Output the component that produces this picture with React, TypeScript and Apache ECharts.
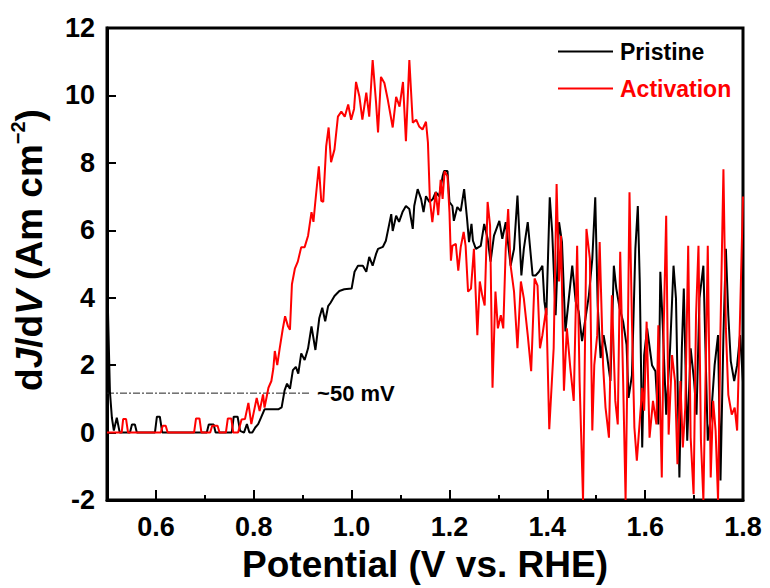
import React, { useEffect, useRef } from "react";
import * as echarts from "echarts";

const xTicksMajor = [0.6, 0.8, 1.0, 1.2, 1.4, 1.6, 1.8];
const yTicks = [-2, 0, 2, 4, 6, 8, 10, 12];

const pristineV = [
  0.5, 0.503, 0.506, 0.51, 0.514, 0.52, 0.526, 0.547, 0.551, 0.557, 0.561, 0.598, 0.602, 0.608, 0.613,
  0.704, 0.708, 0.718, 0.722, 0.755, 0.759, 0.767, 0.772, 0.78, 0.786, 0.791, 0.797, 0.803, 0.809, 0.815,
  0.822, 0.85, 0.857, 0.863, 0.868, 0.874, 0.88, 0.886, 0.891, 0.897, 0.904, 0.911, 0.918, 0.926, 0.934,
  0.94, 0.946, 0.952, 0.957, 0.965, 0.975, 0.985, 1.0, 1.006, 1.013, 1.023, 1.03, 1.036, 1.043, 1.05,
  1.054, 1.064, 1.07, 1.077, 1.081, 1.084, 1.091, 1.097, 1.104, 1.111, 1.118, 1.125, 1.128, 1.135, 1.142,
  1.147, 1.152, 1.159, 1.166, 1.172, 1.179, 1.186, 1.189, 1.196, 1.2, 1.206, 1.209, 1.216, 1.223, 1.23,
  1.236, 1.24, 1.245, 1.248, 1.254, 1.264, 1.271, 1.278, 1.284, 1.291, 1.302, 1.308, 1.315, 1.325, 1.332,
  1.339, 1.347, 1.352, 1.36, 1.37, 1.376, 1.383, 1.39, 1.394, 1.398, 1.405, 1.41, 1.417, 1.424, 1.43,
  1.437, 1.444, 1.451, 1.458, 1.464, 1.471, 1.478, 1.485, 1.492, 1.498, 1.503, 1.509, 1.515, 1.522, 1.529,
  1.536, 1.541, 1.548, 1.555, 1.562, 1.566, 1.573, 1.58, 1.585, 1.589, 1.594, 1.598, 1.604, 1.614, 1.621,
  1.627, 1.631, 1.636, 1.643, 1.651, 1.658, 1.663, 1.67, 1.675, 1.679, 1.686, 1.693, 1.7, 1.705, 1.711,
  1.719, 1.728, 1.735, 1.742, 1.749, 1.754, 1.76, 1.765, 1.77, 1.775, 1.782, 1.788, 1.794, 1.8,
];
const pristineJ = [
  4.8, 3.0, 1.2, 0.44, 0.06, 0.44, 0.0, 0.0, 0.24, 0.24, 0.0, 0.0, 0.47, 0.47, 0.0,
  0.0, 0.24, 0.24, 0.0, 0.0, 0.47, 0.47, 0.05, 0.0, 0.25, 0.0, 0.0, 0.15, 0.25, 0.45,
  0.69, 0.69, 0.75, 1.25, 1.45, 1.3, 1.85, 1.95, 1.75, 2.35, 2.15, 2.5, 3.15, 2.45, 3.4,
  3.7, 3.3, 3.75, 3.85, 4.05, 4.2, 4.25, 4.27, 4.77, 4.95, 4.95, 4.77, 5.21, 4.95, 5.3,
  5.45, 5.51, 5.69, 6.19, 6.48, 5.98, 6.43, 6.25, 6.54, 6.72, 6.63, 6.04, 6.72, 7.22, 6.93,
  6.54, 7.01, 6.84, 6.93, 7.13, 7.01, 7.6, 7.76, 7.76, 6.84, 6.72, 6.28, 6.69, 6.57, 7.22,
  6.34, 5.65, 6.19, 5.69, 5.45, 5.54, 6.19, 5.75, 5.07, 5.84, 6.28, 5.75, 6.24, 4.95, 5.45,
  7.03, 4.66, 5.45, 6.24, 4.66, 4.66, 4.77, 4.95, 3.89, 3.48, 6.98, 5.95, 3.48, 6.24, 5.65,
  3.0, 3.98, 4.95, 3.89, 3.6, 2.71, 3.39, 4.07, 5.16, 6.98, 3.77, 2.21, 2.89, 2.3, 1.53,
  4.95, 4.27, 3.68, 3.29, 2.6, 1.03, 1.7, 5.45, 6.72, 4.48, -0.44, 2.3, 3.09, 2.0, 1.82,
  0.24, 4.77, 3.18, 0.53, 2.5, 4.95, 3.98, -1.33, 2.5, 4.27, -0.24, 2.5, 1.53, 0.53, 3.98,
  4.95, -0.24, 0.53, 2.0, 2.89, -1.42, 2.89, 5.45, 3.48, 2.12, 1.53, 2.0, 2.89, 1.5,
];

const activationV = [
  0.5, 0.53, 0.533, 0.539, 0.543, 0.61, 0.614, 0.62, 0.624, 0.678, 0.682, 0.689, 0.693, 0.711, 0.715,
  0.726, 0.73, 0.743, 0.747, 0.754, 0.758, 0.768, 0.775, 0.782, 0.789, 0.795, 0.806, 0.812, 0.819, 0.822,
  0.83, 0.836, 0.84, 0.843, 0.848, 0.853, 0.859, 0.864, 0.87, 0.874, 0.878, 0.884, 0.89, 0.897, 0.904,
  0.911, 0.918, 0.922, 0.925, 0.933, 0.938, 0.942, 0.948, 0.953, 0.958, 0.965, 0.972, 0.979, 0.986, 0.993,
  0.999, 1.005, 1.009, 1.016, 1.022, 1.03, 1.036, 1.043, 1.05, 1.054, 1.06, 1.067, 1.074, 1.084, 1.091,
  1.098, 1.105, 1.111, 1.118, 1.125, 1.132, 1.138, 1.145, 1.152, 1.156, 1.16, 1.165, 1.172, 1.177, 1.182,
  1.186, 1.19, 1.196, 1.2, 1.203, 1.206, 1.213, 1.218, 1.223, 1.229, 1.233, 1.238, 1.244, 1.25, 1.257,
  1.262, 1.267, 1.272, 1.278, 1.283, 1.288, 1.294, 1.299, 1.305, 1.31, 1.315, 1.32, 1.325, 1.332, 1.339,
  1.346, 1.352, 1.36, 1.367, 1.374, 1.38, 1.385, 1.39, 1.398, 1.404, 1.413, 1.419, 1.424, 1.428, 1.434,
  1.44, 1.447, 1.454, 1.461, 1.466, 1.473, 1.48, 1.487, 1.492, 1.496, 1.502, 1.507, 1.514, 1.519, 1.526,
  1.532, 1.539, 1.544, 1.549, 1.555, 1.56, 1.564, 1.568, 1.573, 1.578, 1.583, 1.589, 1.594, 1.598, 1.603,
  1.609, 1.616, 1.623, 1.627, 1.634, 1.638, 1.643, 1.648, 1.655, 1.661, 1.666, 1.672, 1.677, 1.682, 1.688,
  1.693, 1.699, 1.704, 1.709, 1.714, 1.719, 1.725, 1.728, 1.734, 1.739, 1.744, 1.749, 1.754, 1.76, 1.765,
  1.77, 1.777, 1.783, 1.788, 1.794, 1.8,
];
const activationJ = [
  0.0, 0.0, 0.4, 0.4, 0.0, 0.0, 0.2, 0.2, 0.0, 0.0, 0.42, 0.42, 0.0, 0.0, 0.2,
  0.2, 0.0, 0.0, 0.42, 0.42, 0.0, 0.0, 0.39, 0.4, 0.88, 0.25, 1.03, 0.64, 1.13, 0.74,
  1.33, 1.53, 1.9, 2.42, 2.0, 2.5, 3.05, 3.45, 3.15, 3.05, 4.4, 4.86, 5.07, 5.5, 5.5,
  5.84, 6.54, 6.25, 6.72, 7.9, 6.87, 6.84, 8.49, 9.05, 8.02, 8.4, 9.37, 9.52, 9.37, 9.73,
  9.28, 9.6, 10.4, 9.96, 9.28, 10.08, 9.37, 11.05, 9.78, 8.9, 10.55, 10.37, 9.87, 9.05, 9.96,
  9.67, 10.4, 8.64, 11.05, 9.19, 9.28, 9.08, 8.99, 9.22, 8.6, 6.9, 6.24, 7.13, 6.45, 7.5,
  6.93, 7.75, 7.6, 6.54, 5.1, 5.54, 5.6, 4.8, 5.5, 5.95, 5.54, 4.18, 4.27, 5.45, 2.89,
  4.48, 4.07, 3.77, 6.84, 6.14, 1.33, 4.18, 3.09, 3.48, 3.09, 5.45, 6.63, 4.95, 4.18, 2.5,
  4.48, 3.98, 2.89, 1.82, 4.57, 4.36, 2.5, 2.89, 3.7, 0.1, 2.5, 7.37, 4.48, 5.84, 1.24,
  3.09, 1.92, 0.94, 5.54, 1.53, -2.0, 6.04, 5.16, 0.06, 2.0, 2.89, 5.65, 2.0, 0.74, -0.15,
  4.07, 0.94, 0.24, 5.36, 1.53, -2.0, 2.12, 7.13, 3.29, 0.15, -0.83, 0.35, 1.33, 0.65, 3.29,
  -0.15, 0.94, 0.24, 3.18, -1.33, 3.18, 6.43, -0.06, 2.3, 1.53, -0.94, 1.53, -0.44, 0.74, 5.54,
  -0.15, -1.83, 3.48, 5.54, -0.24, -2.0, 2.89, 5.54, -1.33, 0.94, 0.06, -2.0, 3.09, 7.81, 3.09,
  1.12, 0.53, 0.74, 0.06, 3.48, 7.0,
];

const guideV = [0.5, 0.913];
const guideJ = [1.17, 1.17];
const guideLabel = "~50 mV";

const zip = (xs: number[], ys: number[]) => xs.map((x, i) => [x, ys[i]]);

const FONT = "'Liberation Sans', Arial, sans-serif";

export default function App() {
  const ref = useRef<HTMLDivElement>(null);
  useEffect(() => {
    if (!ref.current) return;
    const chart = echarts.init(ref.current, null, { renderer: "svg" });
    const axisCommon = {
      min: 0.5,
      max: 1.8,
      type: "value" as const,
    };
    chart.setOption({
      animation: false,
      backgroundColor: "#fff",
      textStyle: { fontFamily: FONT },
      grid: {
        left: 105,
        right: 27,
        top: 28,
        bottom: 85,
        show: true,
        borderColor: "#000",
        borderWidth: 3,
        backgroundColor: "transparent",
      },
      legend: {
        orient: "vertical",
        left: 553,
        top: 35,
        icon: "rect",
        itemWidth: 55,
        itemHeight: 2,
        itemGap: 14,
        data: [
          { name: "Pristine", textStyle: { color: "#000" } },
          { name: "Activation", textStyle: { color: "#f00" } },
        ],
        textStyle: { fontSize: 23, fontWeight: "bold", fontFamily: FONT, padding: [0, 0, 0, 2] },
      },
      xAxis: [
        {
          ...axisCommon,
          position: "bottom",
          name: "Potential (V vs. RHE)",
          nameLocation: "middle",
          nameGap: 46,
          nameTextStyle: { fontSize: 37, fontWeight: "bold", color: "#000", fontFamily: FONT },
          axisLine: { show: true, onZero: false, lineStyle: { color: "#000", width: 3 } },
          axisTick: { show: true, inside: true, length: 10, lineStyle: { width: 2, color: "#000" }, customValues: xTicksMajor },
          axisLabel: {
            customValues: xTicksMajor,
            fontSize: 27,
            fontWeight: "bold",
            color: "#000",
            margin: 13,
            fontFamily: FONT,
            formatter: (v: number) => v.toFixed(1),
          },
          splitLine: { show: false },
        },
        {
          ...axisCommon,
          position: "bottom",
          interval: 0.1,
          axisLine: { show: false, onZero: false },
          axisTick: { show: true, inside: true, length: 5, lineStyle: { width: 2, color: "#000" } },
          axisLabel: { show: false },
          splitLine: { show: false },
        },
      ],
      yAxis: {
        type: "value",
        min: -2,
        max: 12,
        interval: 2,
        name: "{b|d}{i|J}{b|/d}{i|V}{b| (Am cm}{s|−2}{b|)}",
        nameLocation: "middle",
        nameGap: 57,
        nameRotate: 90,
        nameTextStyle: {
          fontSize: 37,
          fontWeight: "bold",
          color: "#000",
          padding: [0, 0, 0, 28],
          rich: {
            b: { fontSize: 37, fontWeight: "bold", color: "#000", fontFamily: FONT, lineHeight: 42 },
            i: { fontSize: 37, fontWeight: "bold", fontStyle: "italic", color: "#000", fontFamily: FONT, lineHeight: 42 },
            s: { fontSize: 20, fontWeight: "bold", color: "#000", fontFamily: FONT, verticalAlign: "top", lineHeight: 42 },
          },
        },
        axisLine: { show: true, onZero: false, lineStyle: { color: "#000", width: 3 } },
        axisTick: { show: true, inside: true, length: 9, lineStyle: { width: 2, color: "#000" } },
        axisLabel: {
          fontSize: 27,
          fontWeight: "bold",
          color: "#000",
          margin: 12,
          fontFamily: FONT,
          customValues: yTicks,
        },
        splitLine: { show: false },
      },
      series: [
        {
          name: "guide",
          type: "line",
          xAxisIndex: 0,
          data: zip(guideV, guideJ),
          showSymbol: false,
          symbol: "none",
          lineStyle: { color: "#222", width: 1, type: [7, 2, 2, 2] },
          endLabel: {
            show: true,
            formatter: guideLabel,
            fontSize: 22,
            fontWeight: "bold",
            color: "#000",
            distance: 8,
            fontFamily: FONT,
          },
          z: 1,
        },
        {
          name: "Pristine",
          type: "line",
          xAxisIndex: 0,
          data: zip(pristineV, pristineJ),
          showSymbol: false,
          symbol: "none",
          lineStyle: { color: "#000", width: 2 },
          itemStyle: { color: "#000" },
          z: 2,
        },
        {
          name: "Activation",
          type: "line",
          xAxisIndex: 0,
          data: zip(activationV, activationJ),
          showSymbol: false,
          symbol: "none",
          lineStyle: { color: "#f00", width: 2 },
          itemStyle: { color: "#f00" },
          z: 3,
        },
      ],
    });
    return () => chart.dispose();
  }, []);
  return (
    <div
      ref={ref}
      style={{ position: "fixed", left: 0, top: 0, width: 770, height: 588, background: "#fff" }}
    />
  );
}
